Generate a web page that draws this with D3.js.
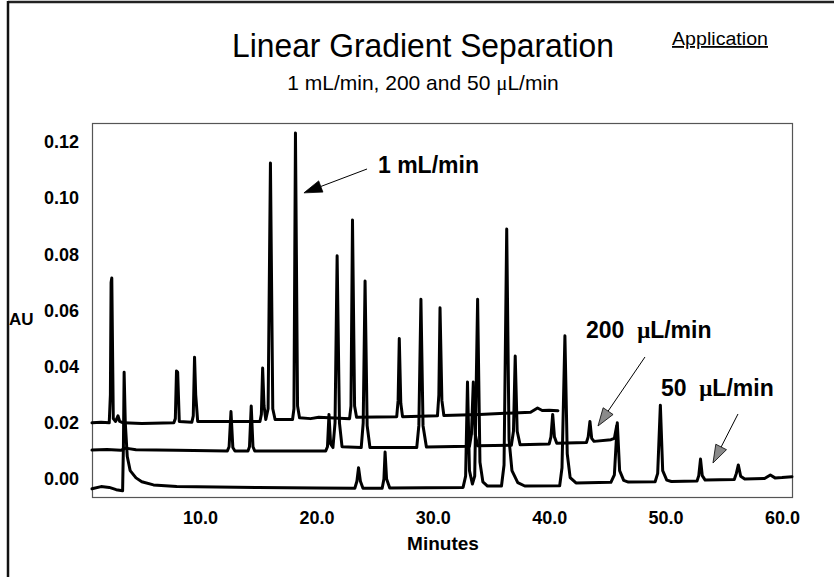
<!DOCTYPE html>
<html><head><meta charset="utf-8">
<script src="https://cdn.jsdelivr.net/npm/d3@7/dist/d3.min.js"></script>
<style>body{margin:0;background:#fff} svg{display:block} .pre{white-space:pre}</style>
</head><body><svg id="c" width="834" height="577"></svg>
<script>
// ---- data (minutes, AU) ----
const xTicks = [10, 20, 30, 40, 50, 60];
const yTicks = [0, 0.02, 0.04, 0.06, 0.08, 0.10, 0.12];

const flow1mL = [
  [0.72,0.0200],[1.5,0.0202],[2.2,0.0200],[2.3,0.030],[2.36,0.0700],[2.42,0.0716],[2.55,0.0215],[2.75,0.0205],
  [2.95,0.0225],[3.1,0.0205],[3.4,0.0200],[5.0,0.0198],[7.75,0.0200],[7.88,0.0215],[7.98,0.0385],[8.08,0.0380],
  [8.22,0.0205],[9.3,0.0202],[9.42,0.0225],[9.53,0.0434],[9.63,0.030],[9.8,0.0205],[15.15,0.0205],[15.27,0.023],
  [15.38,0.0395],[15.5,0.026],[15.65,0.0212],[15.85,0.025],[16.05,0.1125],[16.25,0.025],[16.45,0.0212],
  [17.95,0.0212],[18.07,0.025],[18.2,0.1232],[18.38,0.026],[18.55,0.0218],[19.5,0.0215],[20.2,0.0220],
  [22.85,0.0215],[22.97,0.026],[23.1,0.0922],[23.28,0.026],[23.45,0.0220],[26.9,0.0222],[27.02,0.028],
  [27.12,0.050],[27.25,0.027],[27.4,0.0222],[30.4,0.0225],[30.52,0.030],[30.62,0.061],[30.78,0.028],
  [30.95,0.0226],[34.0,0.0230],[38.4,0.0238],[39.0,0.0253],[39.4,0.0244],[40.0,0.0245],[40.75,0.0243]
];

const flow200uL = [
  [0.72,0.0103],[2.0,0.0105],[3.2,0.0102],[3.6,0.0110],[4.5,0.0104],[8.0,0.0102],[12.35,0.0100],[12.5,0.0115],
  [12.66,0.0240],[12.82,0.0112],[13.0,0.0100],[14.12,0.0100],[14.25,0.0115],[14.4,0.0260],[14.55,0.0115],
  [14.7,0.0100],[20.8,0.0100],[20.95,0.0115],[21.08,0.0230],[21.22,0.0125],[21.42,0.0112],[21.6,0.020],
  [21.78,0.0795],[21.98,0.020],[22.2,0.0115],[23.85,0.0112],[24.02,0.020],[24.18,0.0705],[24.36,0.019],
  [24.6,0.0112],[28.62,0.0112],[28.8,0.019],[28.98,0.064],[29.16,0.019],[29.45,0.0114],[33.15,0.0117],
  [33.32,0.016],[33.48,0.0345],[33.64,0.016],[33.85,0.0118],[36.75,0.0120],[36.93,0.017],[37.08,0.0438],
  [37.25,0.017],[37.5,0.0122],[40.0,0.0125],[40.15,0.015],[40.3,0.0230],[40.45,0.015],[40.65,0.0127],
  [43.2,0.0130],[43.35,0.015],[43.5,0.0205],[43.65,0.0145],[43.85,0.0134],[45.3,0.0140],[45.6,0.0145],[45.8,0.0190]
];

const flow50uL = [
  [0.72,-0.0035],[1.5,-0.0027],[2.2,-0.0030],[2.8,-0.0038],[3.35,-0.0042],[3.42,0.012],[3.48,0.0380],
  [3.58,0.020],[3.75,0.008],[4.0,0.003],[4.5,0.0004],[5.0,-0.0010],[6.0,-0.0021],[8.0,-0.0027],[15.0,-0.0030],
  [20.0,-0.0032],[23.3,-0.0033],[23.48,-0.0008],[23.62,0.0040],[23.78,-0.0008],[24.0,-0.0033],[25.65,-0.0033],
  [25.8,0.0000],[25.9,0.0096],[26.03,0.0000],[26.3,-0.0032],[32.6,-0.0030],[32.82,0.0010],[32.98,0.0345],
  [33.15,0.003],[33.4,-0.0018],[33.6,0.0010],[33.85,0.0640],[34.05,0.006],[34.3,-0.0010],[34.7,-0.0025],
  [35.9,-0.0025],[36.12,0.005],[36.35,0.0890],[36.55,0.014],[36.8,0.003],[37.3,-0.0013],[37.9,-0.0025],
  [40.9,-0.0024],[41.1,0.004],[41.35,0.0510],[41.55,0.009],[41.8,0.0005],[42.3,-0.0014],[45.3,-0.0012],
  [45.6,0.0015],[45.85,0.0200],[46.05,0.003],[46.4,-0.0005],[46.8,-0.0011],[49.1,-0.0010],[49.32,0.002],
  [49.55,0.0263],[49.75,0.003],[50.1,-0.0004],[50.5,-0.0009],[52.7,-0.0007],[52.85,0.0012],[53.0,0.0071],
  [53.15,0.0012],[53.4,-0.0004],[55.9,-0.0002],[56.08,0.0020],[56.25,0.0050],[56.45,0.0010],[56.8,0.0000],
  [58.5,0.0002],[59.0,0.0014],[59.4,0.0004],[60.0,0.0005],[60.86,0.0008]
];

const traces = [flow50uL, flow200uL, flow1mL];

// annotation labels: text parts, label anchor (min, AU), arrow start, arrow tip, head fill
const labels = [
  {text:["1 mL/min"], at:[25.29,0.1090], from:[24.35,0.1104], to:[18.93,0.1019], head:"#000"},
  {text:["200  ","μ","L/min"], at:[43.16,0.0502], from:[48.23,0.04345], to:[44.19,0.01887], head:"#8a8a8a"},
  {text:["50  ","μ","L/min"], at:[49.6,0.0296], from:[56.22,0.02315], to:[54.07,0.0057], head:"#8a8a8a"}
];

// ---- drawing ----
const svg = d3.select("#c");
const W = 834, H = 577;
const m = {l:92, t:123, r:792, b:497};
const FONT = "'Liberation Sans', Arial, Helvetica, sans-serif";
const SERIF = "'Liberation Serif', 'DejaVu Serif', serif";

svg.append("rect").attr("width",W).attr("height",H).attr("fill","#fff");

// page frame (top and left)
svg.append("line").attr("x1",8).attr("x2",W).attr("y1",2).attr("y2",2).attr("stroke","#222").attr("stroke-width",2.5);
svg.append("line").attr("x1",8).attr("x2",8).attr("y1",1).attr("y2",H).attr("stroke","#111").attr("stroke-width",2.5);

const x = d3.scaleLinear().domain([0.72, 60.86]).range([m.l, m.r]);
const y = d3.scaleLinear().domain([-18/2808, 356/2808]).range([m.b, m.t]);

// plot frame
svg.append("rect").attr("x",m.l+0.5).attr("y",m.t+0.5).attr("width",m.r-m.l).attr("height",m.b-m.t)
  .attr("fill","none").attr("stroke","#555").attr("stroke-width",1.2);

// axes
const yAxis = svg.append("g").attr("transform",`translate(${m.l},0)`)
  .call(d3.axisLeft(y).tickValues(yTicks).tickSize(0).tickPadding(13).tickFormat(d3.format(".2f")));
const xAxis = svg.append("g").attr("transform",`translate(0,${m.b})`)
  .call(d3.axisBottom(x).tickValues(xTicks).tickSize(0).tickPadding(14).tickFormat(d3.format(".1f")));
[yAxis, xAxis].forEach(g => {
  g.select(".domain").remove();
  g.selectAll("text").attr("font-family",FONT).attr("font-size",18).attr("font-weight","bold").attr("fill","#000");
});

svg.append("text").attr("x",9).attr("y",325).text("AU")
  .attr("font-family",FONT).attr("font-size",17).attr("font-weight","bold");
svg.append("text").attr("x",443).attr("y",550).attr("text-anchor","middle").text("Minutes")
  .attr("font-family",FONT).attr("font-size",19).attr("font-weight","bold");

// titles
svg.append("text").attr("x",423).attr("y",57).attr("text-anchor","middle").text("Linear Gradient Separation")
  .attr("font-family",FONT).attr("font-size",34).attr("textLength",382).attr("lengthAdjust","spacingAndGlyphs");
const sub = svg.append("text").attr("x",423).attr("y",90).attr("text-anchor","middle")
  .attr("font-family",FONT).attr("font-size",21);
sub.append("tspan").text("1 mL/min, 200 and 50 ");
sub.append("tspan").attr("font-family",SERIF).text("μ");
sub.append("tspan").text("L/min");
svg.append("text").attr("x",672).attr("y",45).text("Application")
  .attr("font-family",FONT).attr("font-size",18).attr("text-decoration","underline")
  .attr("textLength",96).attr("lengthAdjust","spacingAndGlyphs");

// traces
const line = d3.line().x(d => x(d[0])).y(d => y(d[1]));
svg.append("g").selectAll("path").data(traces).join("path")
  .attr("d", line).attr("fill","none").attr("stroke","#000").attr("stroke-width",3)
  .attr("stroke-linejoin","round").attr("stroke-linecap","round");

// annotations
labels.forEach(L => {
  const t = svg.append("text").attr("class","pre").attr("x",x(L.at[0])).attr("y",y(L.at[1]))
    .attr("font-family",FONT).attr("font-size",23).attr("font-weight","bold");
  L.text.forEach(s => {
    const ts = t.append("tspan").text(s);
    if (s === "μ") ts.attr("font-family",SERIF);
  });
  const x0 = x(L.from[0]), y0 = y(L.from[1]), x1 = x(L.to[0]), y1 = y(L.to[1]);
  const ang = Math.atan2(y1-y0, x1-x0), len = 18, hw = 6;
  const bx = x1 - len*Math.cos(ang), by = y1 - len*Math.sin(ang);
  svg.append("line").attr("x1",x0).attr("y1",y0).attr("x2",bx).attr("y2",by)
    .attr("stroke","#000").attr("stroke-width",1);
  const px = -Math.sin(ang)*hw, py = Math.cos(ang)*hw;
  svg.append("path").attr("d",`M${x1},${y1}L${bx+px},${by+py}L${bx-px},${by-py}Z`)
    .attr("fill",L.head).attr("stroke","#000").attr("stroke-width",0.8);
});
</script></body></html>
